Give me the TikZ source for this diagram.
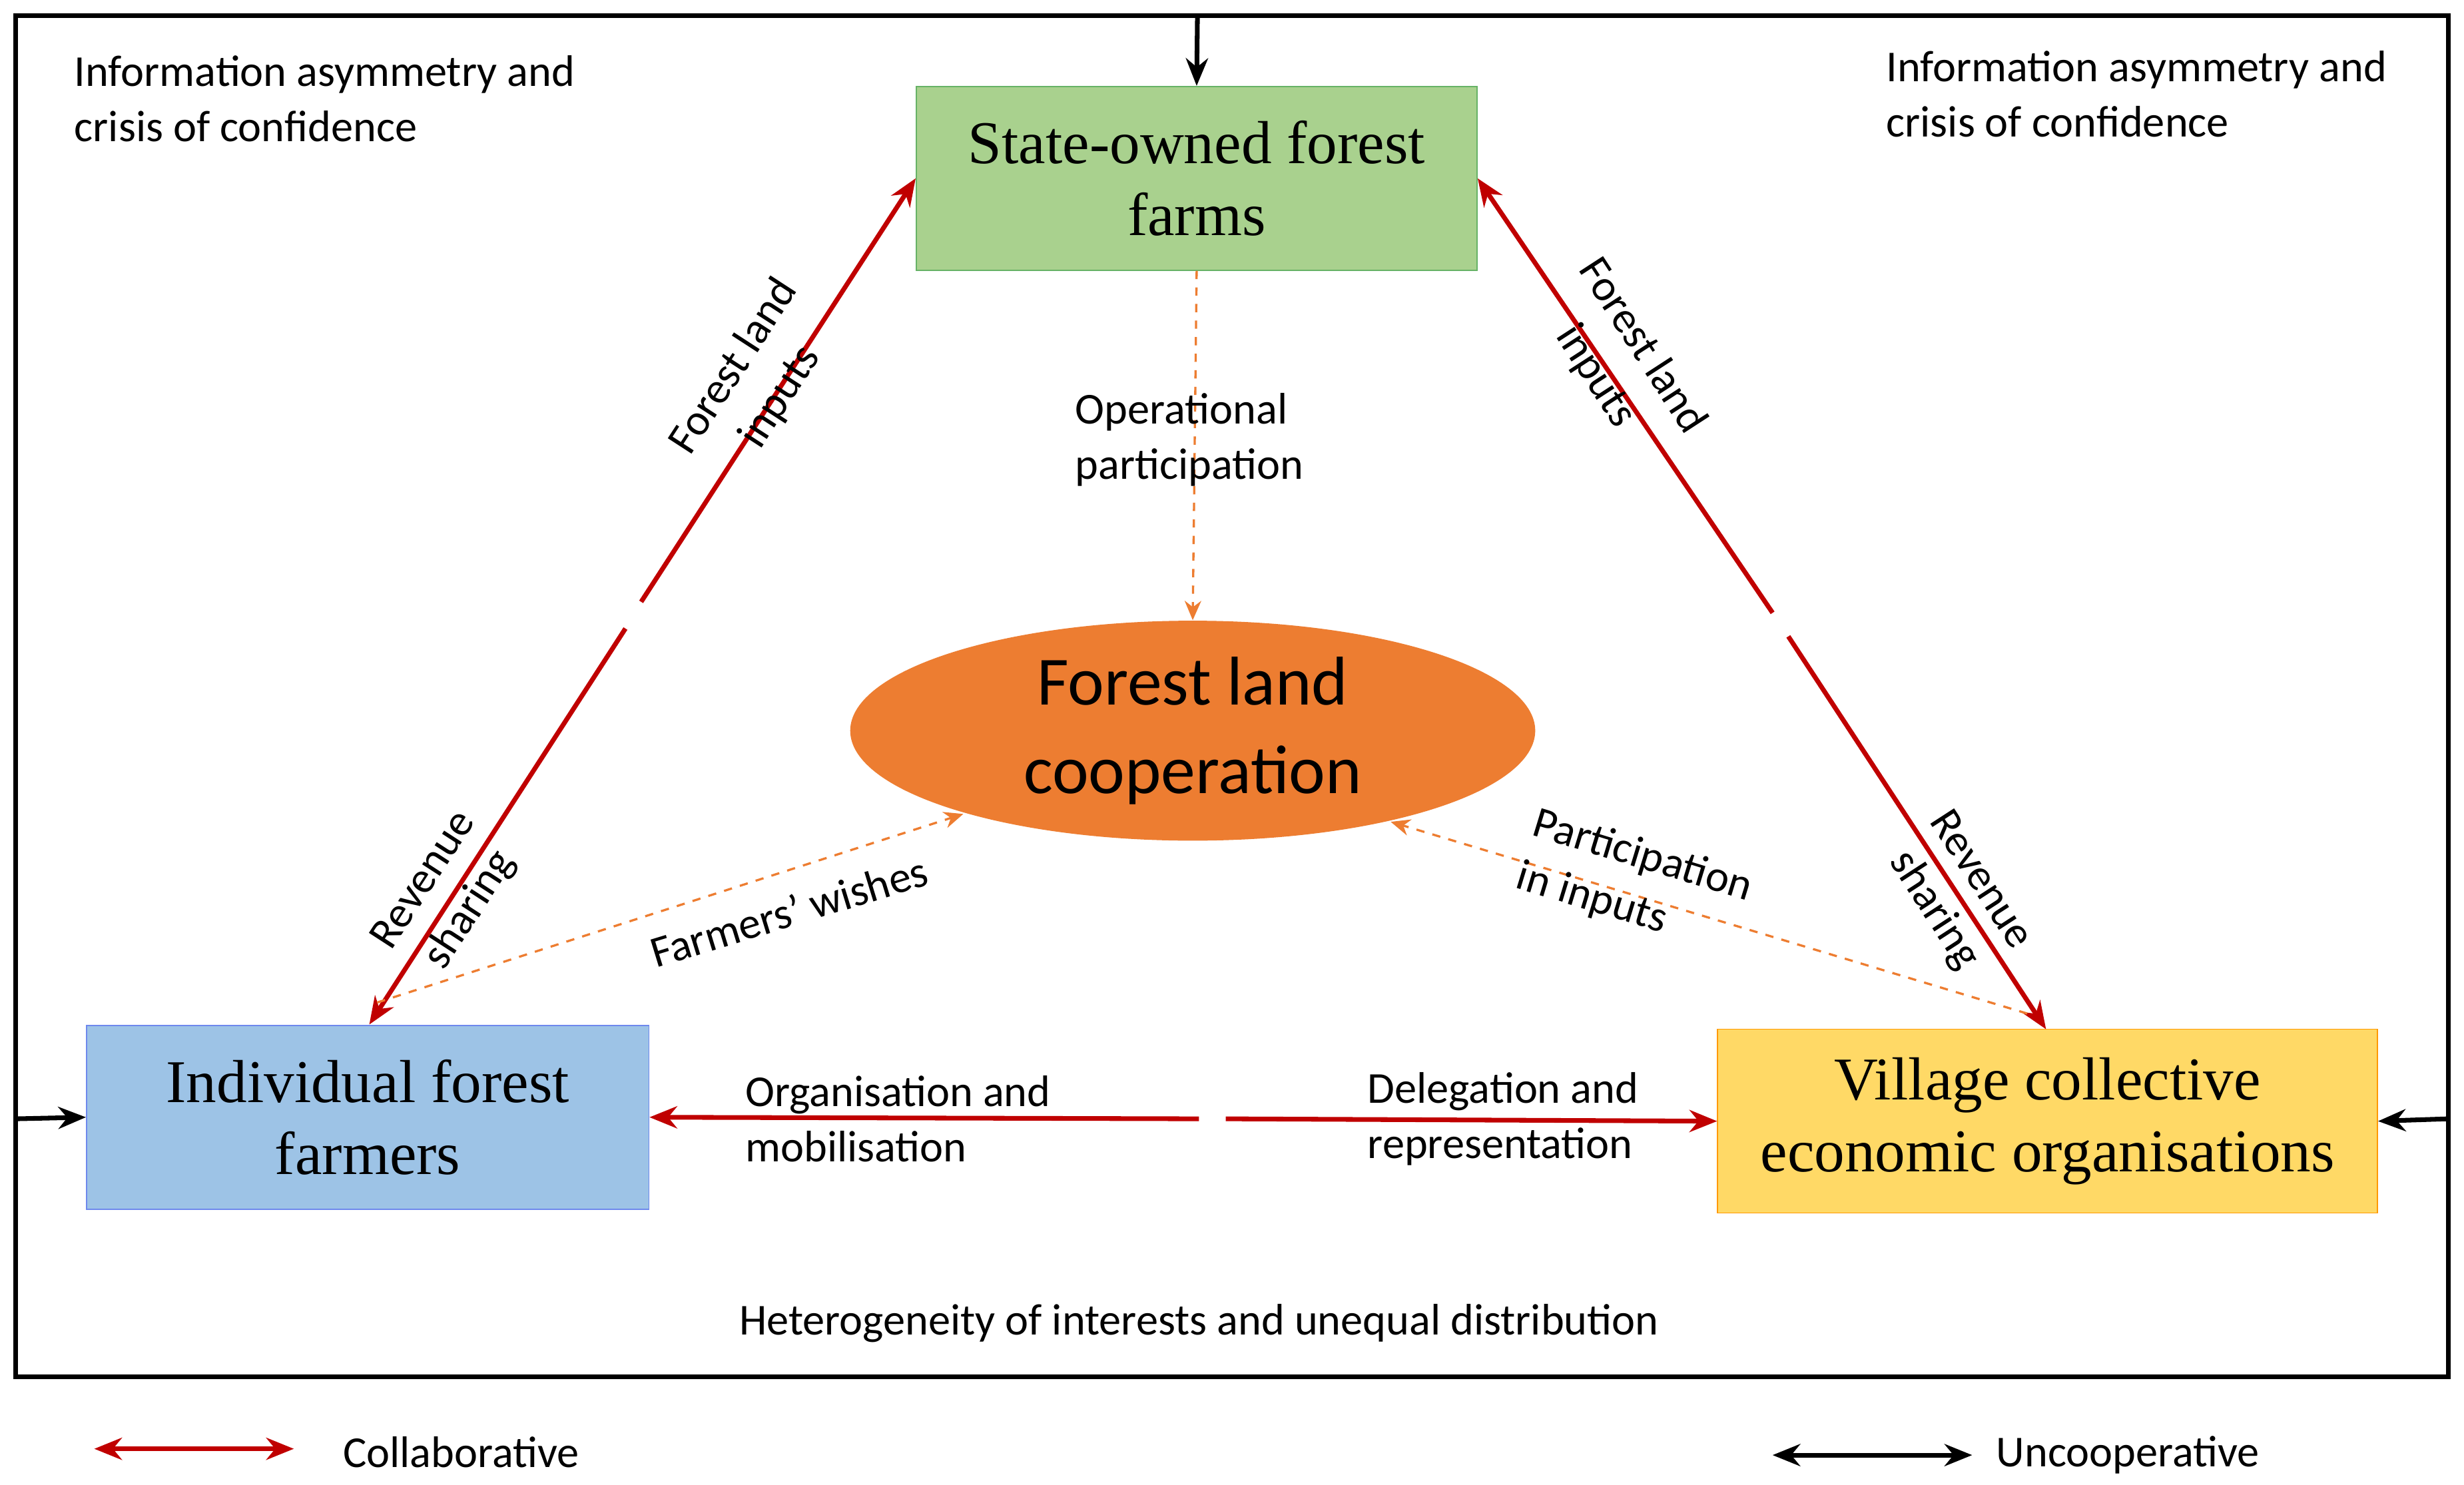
\documentclass[tikz,border=0pt]{standalone}
\usepackage{fontspec}
\setmainfont{Carlito}
\newfontfamily\boxfont{Liberation Serif}
\usetikzlibrary{shapes.geometric, arrows.meta}
\definecolor{collred}{RGB}{192,0,0}
\definecolor{statefill}{RGB}{169,209,142}
\definecolor{farmfill}{RGB}{157,195,230}
\definecolor{villfill}{RGB}{255,217,102}
\definecolor{coopfill}{RGB}{237,125,49}

\begin{document}
\begin{tikzpicture}[x=0.02cm,y=-0.02cm]
	\tikzset{actor/.style={draw,rectangle,align=center,inner sep=0pt,minimum height=2.34cm,font=\boxfont\fontsize{22}{26}\selectfont}}
	\tikzset{edge/.style={-{Stealth[length=10pt,width=8pt]}, line width=1.7pt, collred}}
	\tikzset{wish/.style={-{Stealth[length=7pt,width=6pt]}, thick, dashed, coopfill}}
	\tikzset{label/.style={align=left,font=\fontsize{16}{20}\selectfont,inner sep=0pt}}
	
	\useasboundingbox (0,0) rectangle (1568,945);
	\draw[line width=1.7pt] (10,10) rectangle (1558,876);
	
	\node(state) at (761.5,113.5) [actor,minimum width=7.14cm,fill=statefill,draw=green!50!black!60] {State-owned forest\\farms};
	\node(farmer) at (234,711) [actor,minimum width=7.16cm,fill=farmfill,draw=farmfill!70!blue] {Individual forest\\farmers};
	\node(village) at (1303,713.5) [actor,minimum width=8.4cm,fill=villfill,draw=orange!80!yellow] {Village collective\\economic organisations};
	\node(coop) at (759,465) [ellipse,fill=coopfill,minimum width=8.72cm,minimum height=2.8cm,inner sep=0pt,align=center,font=\fontsize{25}{32}\selectfont] {Forest land\\cooperation};
	
	% gaps in the red lines
	\coordinate(gl1) at (408,383);
	\coordinate(gl2) at (398,400);
	\coordinate(gr1) at (1128,390);
	\coordinate(gr2) at (1138,405);
	\coordinate(gb1) at (763,712);
	\coordinate(gb2) at (780,712);
	
	\draw[edge] (gl1) -- (state.west);
	\draw[edge] (gl2) -- (235,652);
	\draw[edge] (gr1) -- (state.east);
	\draw[edge] (gr2) -- (1302,655);
	\draw[edge] (gb1) -- (farmer.east);
	\draw[edge] (gb2) -- (village.west);
	
	\draw[wish] (state.south) -- (coop.north);
	\draw[wish] (240,638) -- (613,518);
	\draw[wish] (1290,645) -- (885,523);
	
	% outside influences
	\coordinate(top) at (762,10);
	\coordinate(left) at (10,712);
	\coordinate(right) at (1558,712);
	\draw[-{Stealth[length=10pt,width=8pt]},line width=1.7pt] (top) -- (state.north);
	\draw[-{Stealth[length=10pt,width=8pt]},line width=1.7pt] (left) -- (farmer.west);
	\draw[-{Stealth[length=10pt,width=8pt]},line width=1.7pt] (right) -- (village.east);
	
	\node(fl1) at (482,243) [label,align=center,rotate=57] {Forest land\\inputs};
	\node(rs1) at (285,570) [label,align=center,rotate=57] {Revenue\\sharing};
	\node(fl2) at (1030,230) [label,align=center,rotate=-57] {Forest land\\inputs};
	\node(rs2) at (1245,570) [label,align=center,rotate=-57] {Revenue\\sharing};
	\node(op) at (684,280) [label,anchor=west] {Operational\\participation};
	\node(fw) at (502,580) [label,rotate=17] {Farmers' wishes};
	\node(pi) at (1040,562) [label,rotate=-17] {Participation\\in inputs};
	\node(om) at (474,712) [label,anchor=west] {Organisation and\\mobilisation};
	\node(dr) at (870,712) [label,anchor=west] {Delegation and\\representation};
	\node(ia1) at (47,63) [label,anchor=west] {Information asymmetry and\\crisis of confidence};
	\node(ia2) at (1200,60) [label,anchor=west] {Information asymmetry and\\crisis of confidence};
	\node(het) at (763,842) [label] {Heterogeneity of interests and unequal distribution};
	
	% legend
	\coordinate(c1) at (60,922);
	\coordinate(c2) at (187,922);
	\coordinate(u1) at (1128,926);
	\coordinate(u2) at (1255,926);
	\draw[{Stealth[length=10pt,width=8pt]}-{Stealth[length=10pt,width=8pt]},line width=1.7pt,collred] (c1) -- (c2);
	\draw[{Stealth[length=10pt,width=8pt]}-{Stealth[length=10pt,width=8pt]},line width=1.7pt] (u1) -- (u2);
	\node(lc) at (218,924) [label,anchor=west] {Collaborative};
	\node(lu) at (1270,926) [label,anchor=west] {Uncooperative};
\end{tikzpicture}
\end{document}
